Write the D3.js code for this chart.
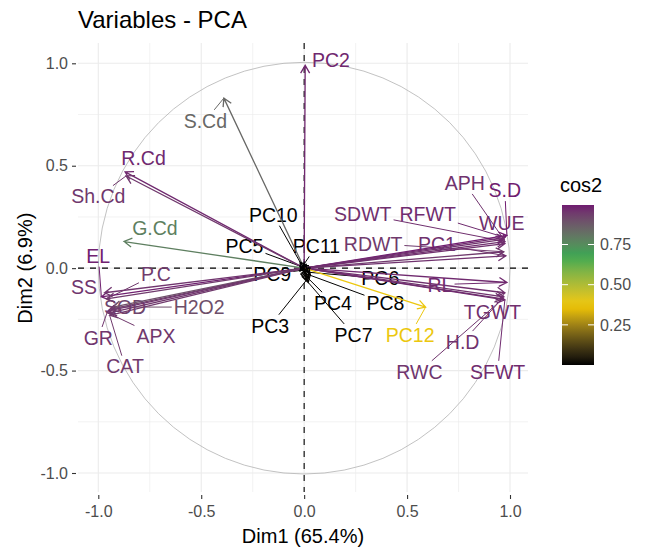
<!DOCTYPE html>
<html lang="en">
<head>
<meta charset="UTF-8">
<title>Variables - PCA</title>
<script src="https://cdn.jsdelivr.net/npm/d3@7"></script>
<style>
  body { margin: 0; background: #fff; }
  svg text { font-family: "Liberation Sans", Arial, sans-serif; }
</style>
</head>
<body>
<svg id="chart" width="647" height="548"></svg>
<script>
// variable names and coordinates on Dim1 / Dim2
var names = ["PC2", "S.Cd", "R.Cd", "Sh.Cd", "G.Cd",
             "EL", "SS", "P.C", "SOD", "H2O2", "GR", "APX", "CAT",
             "APH", "S.D", "WUE", "SDWT", "RFWT", "RDWT", "PC1", "RL", "TGWT", "H.D", "RWC", "SFWT",
             "PC12", "PC10", "PC5", "PC11", "PC9", "PC6", "PC4", "PC8", "PC3", "PC7"];
var dim1 = [0.005, -0.39, -0.87, -0.865, -0.875,
            -0.985, -0.97, -0.96, -0.94, -0.93, -0.955, -0.95, -0.945,
            0.97, 0.985, 0.975, 0.975, 0.975, 0.97, 0.98, 0.985, 0.975, 0.97, 0.965, 0.975,
            0.59, -0.02, -0.02, 0.0, -0.01, 0.02, 0.02, 0.03, 0.01, 0.02];
var dim2 = [0.99, 0.83, 0.47, 0.45, 0.13,
            -0.14, -0.12, -0.15, -0.20, -0.19, -0.21, -0.22, -0.23,
            0.14, 0.16, 0.12, 0.13, 0.15, 0.08, 0.06, -0.07, -0.12, -0.14, -0.15, -0.155,
            -0.19, 0.03, 0.01, 0.02, -0.01, -0.02, -0.05, -0.035, -0.06, -0.07];
// repelled label positions (data units)
var labX = [0.13, -0.48, -0.78, -1.0, -0.725,
            -1.0, -1.07, -0.72, -0.87, -0.51, -1.0, -0.72, -0.87,
            0.78, 0.975, 0.96, 0.285, 0.6, 0.335, 0.645, 0.66, 0.915, 0.77, 0.56, 0.94,
            0.515, -0.15, -0.29, 0.06, -0.155, 0.37, 0.14, 0.395, -0.165, 0.24];
var labY = [1.016, 0.72, 0.54, 0.35, 0.195,
            0.06, -0.09, -0.03, -0.19, -0.19, -0.34, -0.33, -0.48,
            0.415, 0.38, 0.22, 0.265, 0.265, 0.12, 0.12, -0.08, -0.215, -0.36, -0.505, -0.505,
            -0.325, 0.26, 0.11, 0.11, -0.03, -0.05, -0.17, -0.17, -0.28, -0.325];

var majorTicks = [-1.0, -0.5, 0.0, 0.5, 1.0];
var minorTicks = [-0.75, -0.25, 0.25, 0.75];
var legendTicks = [0.25, 0.50, 0.75];
var gradCols = ["#000000", "#F4C800", "#34A853", "#701C70"];
var gradPos = [0, 0.37, 0.68, 1];

var svg = d3.select("#chart");
var panel = {left: 78, right: 528, top: 43, bottom: 492};

var x = d3.scaleLinear().domain([-1, 1]).range([98.3, 510]);
var y = d3.scaleLinear().domain([-1, 1]).range([473, 63.3]);

var cos2 = dim1.map(function(d, i){ return d * d + dim2[i] * dim2[i]; });
var cmin = d3.min(cos2), cmax = d3.max(cos2), cr = cmax - cmin;
var color = d3.scaleLinear()
    .domain(gradPos.map(function(f){ return cmin + f * cr; }))
    .range(gradCols)
    .interpolate(d3.interpolateLab);

// grid
var grid = svg.append("g");
minorTicks.forEach(function(t){
    grid.append("line").attr("x1", x(t)).attr("x2", x(t)).attr("y1", panel.top).attr("y2", panel.bottom)
        .attr("stroke", "#EBEBEB").attr("stroke-width", 0.6);
    grid.append("line").attr("y1", y(t)).attr("y2", y(t)).attr("x1", panel.left).attr("x2", panel.right)
        .attr("stroke", "#EBEBEB").attr("stroke-width", 0.6);
});
majorTicks.forEach(function(t){
    grid.append("line").attr("x1", x(t)).attr("x2", x(t)).attr("y1", panel.top).attr("y2", panel.bottom)
        .attr("stroke", "#EBEBEB").attr("stroke-width", 1.1);
    grid.append("line").attr("y1", y(t)).attr("y2", y(t)).attr("x1", panel.left).attr("x2", panel.right)
        .attr("stroke", "#EBEBEB").attr("stroke-width", 1.1);
});

// axes
var fmt = function(d){ return d3.format(".1f")(d).replace("−", "-"); };
var xAxis = d3.axisBottom(x).tickValues(majorTicks).tickSize(4).tickPadding(7).tickFormat(fmt);
var yAxis = d3.axisLeft(y).tickValues(majorTicks).tickSize(4).tickPadding(4).tickFormat(fmt);
var gx = svg.append("g").attr("transform", "translate(0," + (panel.bottom + 3) + ")").call(xAxis);
var gy = svg.append("g").attr("transform", "translate(" + (panel.left - 2) + ",0)").call(yAxis);
[gx, gy].forEach(function(g){
    g.select(".domain").remove();
    g.selectAll(".tick line").attr("stroke", "#333").attr("stroke-width", 1.1);
    g.selectAll(".tick text").attr("fill", "#4D4D4D").attr("font-size", 16)
        .style("font-family", "'Liberation Sans', Arial, sans-serif");
});

// unit circle
svg.append("circle").attr("cx", x(0)).attr("cy", y(0)).attr("r", x(1) - x(0))
    .attr("fill", "none").attr("stroke", "#B3B3B3").attr("stroke-width", 0.8);

// reference lines
svg.append("line").attr("x1", panel.left).attr("x2", panel.right).attr("y1", y(0)).attr("y2", y(0))
    .attr("stroke", "#000").attr("stroke-width", 1.1).attr("stroke-dasharray", "6,6");
svg.append("line").attr("x1", x(0)).attr("x2", x(0)).attr("y1", panel.top).attr("y2", panel.bottom)
    .attr("stroke", "#000").attr("stroke-width", 1.1).attr("stroke-dasharray", "6,6");

// labels with repel segments
var labs = svg.append("g");
var segs = svg.append("g");
names.forEach(function(n, i){
    var t = labs.append("text")
        .attr("x", x(labX[i])).attr("y", y(labY[i]))
        .attr("dy", "0.36em")
        .attr("text-anchor", "middle")
        .attr("font-size", 19.5)
        .attr("fill", color(cos2[i]))
        .text(n);
    var bb = t.node().getBBox();
    var pad = 2;
    var cx = x(labX[i]), cy = y(labY[i]);
    var px = x(dim1[i]), py = y(dim2[i]);
    var dx = px - cx, dy = py - cy;
    var hw = bb.width / 2 + pad, hh = (bb.height / 2) * 0.8 + pad;
    if (Math.abs(dx) <= hw && Math.abs(dy) <= hh) return;
    var s = Math.min(dx !== 0 ? hw / Math.abs(dx) : Infinity, dy !== 0 ? hh / Math.abs(dy) : Infinity);
    var sx = cx + dx * s, sy = cy + dy * s;
    if (Math.hypot(px - sx, py - sy) < 8) return;
    segs.append("line").attr("x1", sx).attr("y1", sy).attr("x2", px).attr("y2", py)
        .attr("stroke", color(cos2[i])).attr("stroke-width", 1);
});

// arrows
var arrows = svg.append("g");
var headLen = 9, headAng = Math.PI / 6;
names.forEach(function(n, i){
    var x0 = x(0), y0 = y(0), x1 = x(dim1[i]), y1 = y(dim2[i]);
    var a = Math.atan2(y1 - y0, x1 - x0);
    var p = d3.path();
    p.moveTo(x0, y0); p.lineTo(x1, y1);
    p.moveTo(x1 - headLen * Math.cos(a - headAng), y1 - headLen * Math.sin(a - headAng));
    p.lineTo(x1, y1);
    p.lineTo(x1 - headLen * Math.cos(a + headAng), y1 - headLen * Math.sin(a + headAng));
    arrows.append("path").attr("d", p.toString())
        .attr("fill", "none").attr("stroke", color(cos2[i])).attr("stroke-width", 1.3);
});

// titles
svg.append("text").attr("x", panel.left).attr("y", 28).attr("font-size", 24).attr("fill", "#000")
    .text("Variables - PCA");
svg.append("text").attr("x", (panel.left + panel.right) / 2).attr("y", 543)
    .attr("text-anchor", "middle").attr("font-size", 20).attr("fill", "#000")
    .text("Dim1 (65.4%)");
svg.append("text").attr("transform", "translate(32," + y(0) + ") rotate(-90)")
    .attr("text-anchor", "middle").attr("font-size", 20).attr("fill", "#000")
    .text("Dim2 (6.9%)");

// legend
var leg = {x: 562, top: 205, bottom: 365, w: 32};
var ly = d3.scaleLinear().domain([cmin, cmax]).range([leg.bottom, leg.top]);
var defs = svg.append("defs");
var grad = defs.append("linearGradient").attr("id", "cosgrad")
    .attr("x1", 0).attr("y1", 1).attr("x2", 0).attr("y2", 0);
d3.range(0, 1.0001, 0.05).forEach(function(f){
    grad.append("stop").attr("offset", f).attr("stop-color", color(cmin + f * cr));
});
svg.append("text").attr("x", leg.x - 2).attr("y", 192).attr("font-size", 20).attr("fill", "#000").text("cos2");
svg.append("rect").attr("x", leg.x).attr("y", leg.top).attr("width", leg.w)
    .attr("height", leg.bottom - leg.top).attr("fill", "url(#cosgrad)");
legendTicks.forEach(function(t){
    svg.append("line").attr("x1", leg.x).attr("x2", leg.x + 6).attr("y1", ly(t)).attr("y2", ly(t))
        .attr("stroke", "#fff").attr("stroke-width", 1);
    svg.append("line").attr("x1", leg.x + leg.w - 6).attr("x2", leg.x + leg.w).attr("y1", ly(t)).attr("y2", ly(t))
        .attr("stroke", "#fff").attr("stroke-width", 1);
    svg.append("text").attr("x", leg.x + leg.w + 6).attr("y", ly(t)).attr("dy", "0.36em")
        .attr("font-size", 16).attr("fill", "#4D4D4D").text(d3.format(".2f")(t));
});
</script>
</body>
</html>
